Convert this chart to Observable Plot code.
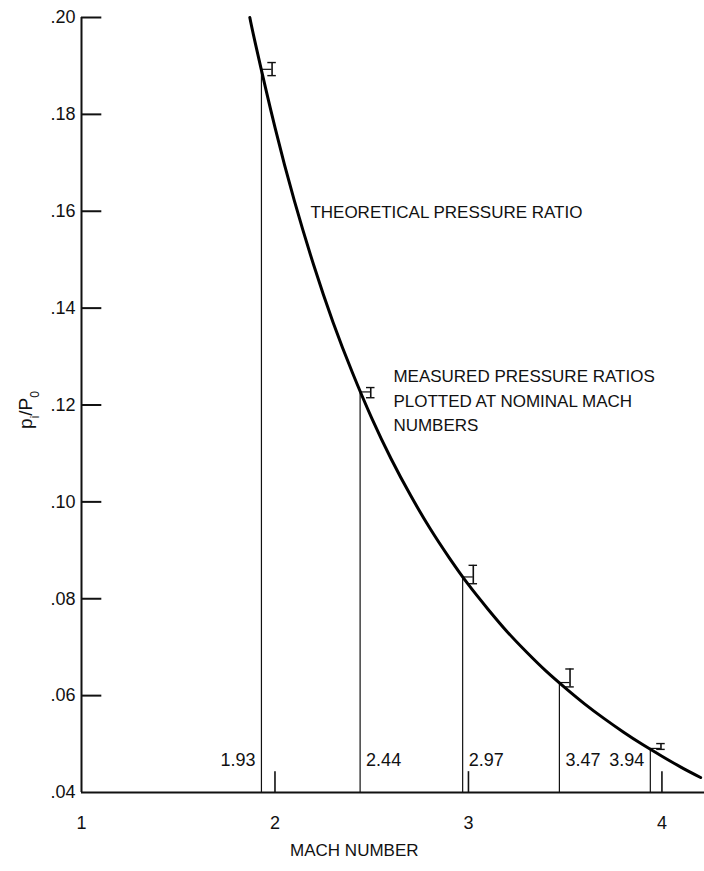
<!DOCTYPE html>
<html>
<head>
<meta charset="utf-8">
<script src="https://cdn.jsdelivr.net/npm/d3@7"></script>
<script src="https://cdn.jsdelivr.net/npm/@observablehq/plot@0.6"></script>
<style>
  html, body { margin: 0; padding: 0; background: #fff; }
  #chart { width: 704px; height: 871px; }
</style>
</head>
<body>
<div id="chart"></div>
<script>
// Theoretical pressure ratio curve
const curveMach  = [1.87, 1.9, 2.0, 2.1, 2.2, 2.3, 2.4, 2.5, 2.6, 2.7, 2.8, 2.9, 3.0, 3.1, 3.2, 3.3, 3.4, 3.5, 3.6, 3.7, 3.8, 3.9, 4.0, 4.1, 4.2];
const curveRatio = [0.2000, 0.1944, 0.1773, 0.1622, 0.1489, 0.1371, 0.1267, 0.1173, 0.1089, 0.1014, 0.0946, 0.0885, 0.0829, 0.0779, 0.0732, 0.0690, 0.0651, 0.0616, 0.0583, 0.0553, 0.0525, 0.0499, 0.0475, 0.0452, 0.0431];

// Measured pressure ratios at nominal Mach numbers
const nominalMach   = [1.93, 2.44, 2.97, 3.47, 3.94];
const machLabels    = ["1.93", "2.44", "2.97", "3.47", "3.94"];
const measured      = [0.1893, 0.1227, 0.0845, 0.0627, 0.0491];
const measuredLow   = [0.1880, 0.1215, 0.0831, 0.0618, 0.0489];
const measuredHigh  = [0.1907, 0.1236, 0.0869, 0.0655, 0.0501];
const labelOnLeft   = [true, false, false, false, true];

// Axis ticks
const yTicks      = [0.04, 0.06, 0.08, 0.10, 0.12, 0.14, 0.16, 0.18, 0.20];
const yTickLabels = [".04", ".06", ".08", ".10", ".12", ".14", ".16", ".18", ".20"];
const xTicks      = [1, 2, 3, 4];
const xTickLabels = ["1", "2", "3", "4"];

const curve = curveMach.map((m, i) => ({m, r: curveRatio[i]}));
const points = nominalMach.map((m, i) => ({
  m, v: measured[i], lo: measuredLow[i], hi: measuredHigh[i],
  label: machLabels[i], left: labelOnLeft[i]
}));

const FONT = "'Liberation Sans', Arial, sans-serif";
const FS = 17;
const barDx = 0.055;   // I-bar drawn just right of the station line
const capHalf = 0.022;

const chart = Plot.plot({
  width: 704,
  height: 871,
  marginLeft: 81,
  marginRight: 0,
  marginTop: 17,
  marginBottom: 79,
  x: {domain: [1, 4.22]},
  y: {domain: [0.04, 0.20]},
  style: {fontFamily: FONT, fontSize: FS + "px", color: "#111", background: "#fff"},
  marks: [
    Plot.axisY(yTicks, {tickSize: 0, tickPadding: 6, fontSize: 18,
      tickFormat: d => yTickLabels[yTicks.indexOf(d)], label: null}),
    Plot.axisX(xTicks, {tickSize: 0, tickPadding: 24, fontSize: 18,
      tickFormat: d => xTickLabels[xTicks.indexOf(d)], label: null}),
    // axis lines
    Plot.ruleX([1], {y1: 0.04, y2: 0.20, stroke: "#111", strokeWidth: 2}),
    Plot.ruleY([0.04], {x1: 1, x2: 4.22, stroke: "#111", strokeWidth: 2}),
    // inner ticks
    Plot.ruleY(yTicks.slice(1), {x1: 1, x2: 1.105, stroke: "#111", strokeWidth: 2}),
    Plot.ruleX(xTicks.slice(1), {y1: 0.04, y2: 0.0443, stroke: "#111", strokeWidth: 1.6}),
    // station lines
    Plot.ruleX(points, {x: "m", y1: 0.04, y2: "v", stroke: "#111", strokeWidth: 1.2}),
    // connectors to error bars
    Plot.ruleY(points, {y: "v", x1: "m", x2: d => d.m + barDx, stroke: "#111", strokeWidth: 1.2}),
    // error bars
    Plot.ruleX(points, {x: d => d.m + barDx, y1: "lo", y2: "hi", stroke: "#111", strokeWidth: 1.6}),
    Plot.ruleY(points, {y: "lo", x1: d => d.m + barDx - capHalf, x2: d => d.m + barDx + capHalf, stroke: "#111", strokeWidth: 1.4}),
    Plot.ruleY(points, {y: "hi", x1: d => d.m + barDx - capHalf, x2: d => d.m + barDx + capHalf, stroke: "#111", strokeWidth: 1.4}),
    // theoretical curve
    Plot.line(curve, {x: "m", y: "r", stroke: "#000", strokeWidth: 3, curve: "natural"}),
    // station labels
    Plot.text(points.filter(d => d.left), {x: "m", y: 0.0466, text: "label", textAnchor: "end", dx: -6, fontSize: 18, fill: "#111"}),
    Plot.text(points.filter(d => !d.left), {x: "m", y: 0.0466, text: "label", textAnchor: "start", dx: 6, fontSize: 18, fill: "#111"}),
    // annotations
    Plot.text(["THEORETICAL PRESSURE RATIO"], {x: 2.183, y: 0.1597, textAnchor: "start", fontSize: FS, fill: "#111"}),
    Plot.text(["MEASURED PRESSURE RATIOS\nPLOTTED AT NOMINAL MACH\nNUMBERS"], {x: 2.612, y: 0.1213, textAnchor: "start", lineAnchor: "middle", lineHeight: 1.45, fontSize: FS, fill: "#111"}),
    // x axis title
    Plot.text(["MACH NUMBER"], {x: 2.41, frameAnchor: "bottom", dy: 63, fontSize: FS, fill: "#111"})
  ]
});

document.getElementById("chart").appendChild(chart);

// y-axis title with subscripts
const svg = d3.select(chart);
const t = svg.append("text")
  .attr("transform", "translate(32,410) rotate(-90)")
  .attr("text-anchor", "middle")
  .attr("font-family", FONT)
  .attr("font-size", 19)
  .attr("fill", "#111");
t.append("tspan").text("p");
t.append("tspan").attr("baseline-shift", "sub").attr("font-size", 12).text("i");
t.append("tspan").text("/P");
t.append("tspan").attr("baseline-shift", "sub").attr("font-size", 12).text("0");
</script>
</body>
</html>
